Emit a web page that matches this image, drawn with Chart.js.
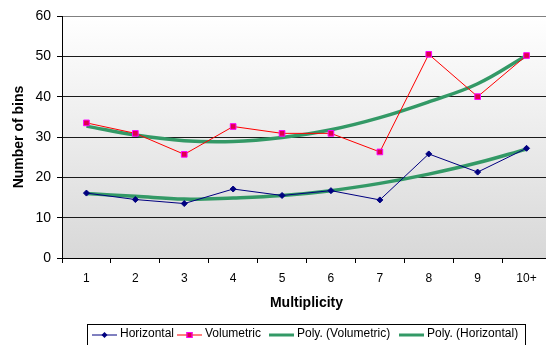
<!DOCTYPE html>
<html>
<head>
<meta charset="utf-8">
<script src="https://cdn.jsdelivr.net/npm/chart.js@4/dist/chart.umd.min.js"></script>
<style>
  html, body { margin: 0; padding: 0; background: #fff; overflow: hidden; }
  #wrap { width: 560px; height: 360px; }
</style>
</head>
<body>
<div id="wrap"><canvas id="myChart" width="560" height="360"></canvas></div>
<script>
// Datos leidos por multiplicidad
const multiplicity   = ["1", "2", "3", "4", "5", "6", "7", "8", "9", "10+"];
const horizontal     = [16.1, 14.5, 13.5, 17.1, 15.5, 16.7, 14.4, 25.8, 21.3, 27.2];
const volumetric     = [33.5, 30.9, 25.7, 32.6, 30.9, 30.9, 26.3, 50.5, 40.0, 50.2];
const polyVolumetric = [32.7, 30.5, 29.1, 28.9, 29.9, 31.8, 34.8, 38.7, 43.2, 50.2];
const polyHorizontal = [16.0, 15.3, 14.6, 14.9, 15.5, 16.7, 18.5, 20.8, 23.6, 27.0];
const yMin = 0, yMax = 60, yStep = 10;

const fontName = "'Liberation Sans', Arial, sans-serif";
const green = "#339966";

// fondo degradado del area del grafico
const plotBackground = {
  id: "plotBackground",
  beforeDraw(chart) {
    const { ctx, chartArea: a } = chart;
    const g = ctx.createLinearGradient(0, a.top, 0, a.bottom);
    g.addColorStop(0, "#ffffff");
    g.addColorStop(1, "#d8d8d8");
    ctx.save();
    ctx.fillStyle = g;
    ctx.fillRect(a.left, a.top, a.right - a.left, a.bottom - a.top);
    ctx.restore();
  }
};

// leyenda con recuadro, al estilo Excel
const boxLegend = {
  id: "boxLegend",
  afterDraw(chart) {
    const ctx = chart.ctx;
    const items = [
      { text: "Horizontal", color: "#000080", width: 1, marker: "diamond", x: 92 },
      { text: "Volumetric", color: "#ff0000", width: 1, marker: "square", x: 177 },
      { text: "Poly. (Volumetric)", color: green, width: 3, marker: null, x: 269 },
      { text: "Poly. (Horizontal)", color: green, width: 3, marker: null, x: 399 }
    ];
    ctx.save();
    ctx.font = "12px " + fontName;
    ctx.strokeStyle = "#000";
    ctx.lineWidth = 1;
    ctx.strokeRect(87.5, 324.5, 438, 24);
    const y = 335;
    items.forEach(it => {
      const x = it.x;
      ctx.strokeStyle = it.color;
      ctx.lineWidth = it.width;
      ctx.beginPath();
      ctx.moveTo(x, y);
      ctx.lineTo(x + 25, y);
      ctx.stroke();
      const cx = x + 12.5;
      if (it.marker === "diamond") {
        ctx.fillStyle = "#000080";
        ctx.beginPath();
        ctx.moveTo(cx - 3, y); ctx.lineTo(cx, y - 3); ctx.lineTo(cx + 3, y); ctx.lineTo(cx, y + 3);
        ctx.closePath();
        ctx.fill();
      } else if (it.marker === "square") {
        ctx.fillStyle = "#e0004c";
        ctx.strokeStyle = "#ff00ff";
        ctx.lineWidth = 1;
        ctx.fillRect(cx - 3, y - 3, 6, 6);
        ctx.strokeRect(cx - 2.5, y - 2.5, 5, 5);
      }
      ctx.fillStyle = "#000";
      ctx.textBaseline = "middle";
      ctx.fillText(it.text, x + 28, y - 1);
    });
    ctx.restore();
  }
};

const datasets = [
  {
    label: "Horizontal", data: horizontal, order: 0,
    borderColor: "#000080", borderWidth: 1, tension: 0,
    pointStyle: "rectRot", pointRadius: 3,
    pointBackgroundColor: "#000080", pointBorderColor: "#000080", pointBorderWidth: 1
  },
  {
    label: "Volumetric", data: volumetric, order: 1,
    borderColor: "#ff0000", borderWidth: 1, tension: 0,
    pointStyle: "rect", pointRadius: 4,
    pointBackgroundColor: "#e0004c", pointBorderColor: "#ff00ff", pointBorderWidth: 1
  },
  {
    label: "Poly. (Volumetric)", data: polyVolumetric, order: 2,
    borderColor: green, borderWidth: 3.5, tension: 0.4, pointRadius: 0
  },
  {
    label: "Poly. (Horizontal)", data: polyHorizontal, order: 3,
    borderColor: green, borderWidth: 3.5, tension: 0.4, pointRadius: 0
  }
];

const config = {
  type: "line",
  data: { labels: multiplicity, datasets },
  plugins: [plotBackground, boxLegend],
  options: {
    responsive: false,
    animation: false,
    layout: { padding: { top: 16, left: 0, right: 9, bottom: 46 } },
    plugins: { legend: { display: false }, tooltip: { enabled: false } },
    scales: {
      x: {
        offset: true,
        grid: { offset: true, drawOnChartArea: false, drawTicks: true, tickLength: 5, color: "#000" },
        border: { color: "#000", width: 1 },
        ticks: { color: "#000", padding: 8, maxRotation: 0, font: { family: fontName, size: 12 } },
        title: {
          display: true, text: "Multiplicity", color: "#000",
          padding: { top: 0, bottom: 2 },
          font: { family: fontName, size: 14, weight: "bold" }
        },
        afterFit(scale) { scale.height = 56; }
      },
      y: {
        min: yMin, max: yMax,
        ticks: { stepSize: yStep, color: "#000", padding: 6, font: { family: fontName, size: 14 } },
        grid: {
          color: c => (c.tick && c.tick.value === yMax ? "#808080" : "#1a1a1a"),
          tickColor: "#000", tickLength: 5, lineWidth: 1
        },
        border: { color: "#000", width: 1 },
        title: {
          display: true, text: "Number of bins", color: "#000",
          padding: { top: 11, bottom: 0 },
          font: { family: fontName, size: 14, weight: "bold" }
        },
        afterFit(scale) { scale.width = 62; }
      }
    }
  }
};

new Chart(document.getElementById("myChart"), config);
</script>
</body>
</html>
